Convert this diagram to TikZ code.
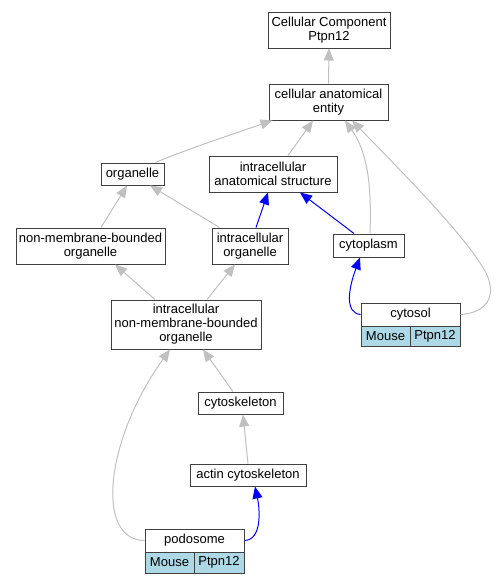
\documentclass[tikz,border=0pt]{standalone}
\usepackage{fontspec}
\setmainfont{Liberation Sans}
\usetikzlibrary{arrows.meta}
\definecolor{edgegray}{HTML}{C0C0C0}
\definecolor{cellblue}{HTML}{ADD8E6}
\definecolor{framegray}{HTML}{404040}

\begin{document}
\begin{tikzpicture}[x=1pt,y=-1pt,
    term/.style={draw=framegray,line width=1pt,fill=white,align=center,inner sep=0pt,
      font=\fontsize{13}{14}\selectfont},
    spec/.style={term,fill=cellblue},
    isa/.style={draw=edgegray,line width=1pt,-{Triangle[length=12pt,width=10pt]}},
    partof/.style={isa,draw=blue}]
    \useasboundingbox (0,0) rectangle (496,584);
    % terms
    \node[term,minimum width=122pt,minimum height=36pt] (cc) at (329,30) {Cellular Component\\Ptpn12};
    \node[term,minimum width=119pt,minimum height=36pt] (cae) at (328.5,102) {cellular anatomical\\entity};
    \node[term,minimum width=63pt,minimum height=22pt] (org) at (132.5,174) {organelle};
    \node[term,minimum width=128pt,minimum height=36pt] (ias) at (273,174) {intracellular\\anatomical structure};
    \node[term,minimum width=149pt,minimum height=36pt] (nmbo) at (90.5,246) {non-membrane-bounded\\organelle};
    \node[term,minimum width=76pt,minimum height=36pt] (io) at (250,246) {intracellular\\organelle};
    \node[term,minimum width=71pt,minimum height=23pt] (cyto) at (368.5,245.5) {cytoplasm};
    \node[term,minimum width=150pt,minimum height=49pt] (inmbo) at (186,324.5) {intracellular\\non-membrane-bounded\\organelle};
    \node[term,minimum width=85pt,minimum height=22pt] (csk) at (240.5,403) {cytoskeleton};
    \node[term,minimum width=116pt,minimum height=22pt] (acsk) at (248,475) {actin cytoskeleton};
    % annotated terms
    \node[term,minimum width=99pt,minimum height=23pt] (csol) at (410.5,314.5) {cytosol};
    \node[spec,minimum width=49pt,minimum height=20pt] (csolsp) at (385.5,336) {Mouse};
    \node[spec,minimum width=50pt,minimum height=20pt] (csolgn) at (435,336) {Ptpn12};
    \node[term,minimum width=99pt,minimum height=23pt] (pod) at (194.5,540.5) {podosome};
    \node[spec,minimum width=49pt,minimum height=21pt] (podsp) at (169.5,562.5) {Mouse};
    \node[spec,minimum width=50pt,minimum height=21pt] (podgn) at (219,562.5) {Ptpn12};
    % is_a
    \draw[isa] (cae) -- (cc);
    \draw[isa] ([xshift=-9pt]org.north east) .. controls (185,150) and (230,135) .. ([xshift=4pt]cae.south west);
    \draw[isa] ([xshift=15pt]ias.north) -- ([xshift=-15.5pt]cae.south);
    \draw[isa] ([xshift=1.5pt]cyto.north) .. controls (372,180) and (366,150) .. ([xshift=16.5pt]cae.south);
    \draw[isa] (csol.east) .. controls (485,313) and (497,298) .. (487,275)
      .. controls (470,240) and (400,170) .. ([xshift=23.5pt]cae.south);
    \draw[isa] ([xshift=10.5pt]nmbo.north) -- ([xshift=-5.5pt]org.south);
    \draw[isa] ([xshift=8pt]io.north west) -- ([xshift=17.5pt]org.south);
    \draw[isa] ([xshift=-31pt]inmbo.north) -- ([xshift=24.5pt]nmbo.south);
    \draw[isa] ([xshift=21pt]inmbo.north) -- ([xshift=-15pt]io.south);
    \draw[isa] ([xshift=-7.5pt]csk.north) -- ([xshift=17pt]inmbo.south);
    \draw[isa] (acsk.north) -- ([xshift=2.5pt]csk.south);
    \draw[isa] (pod.west) .. controls (95,540) and (105,440) .. ([xshift=-16pt]inmbo.south);
    % part_of
    \draw[partof] ([xshift=6pt]io.north) -- ([xshift=-5pt]ias.south);
    \draw[partof] ([xshift=-14.5pt]cyto.north) -- ([xshift=27pt]ias.south);
    \draw[partof] (csol.west) .. controls (345,313) and (348,290) .. ([xshift=-8.5pt]cyto.south);
    \draw[partof] (pod.east) .. controls (262,540) and (260,510) .. ([xshift=7pt]acsk.south);
\end{tikzpicture}
\end{document}
